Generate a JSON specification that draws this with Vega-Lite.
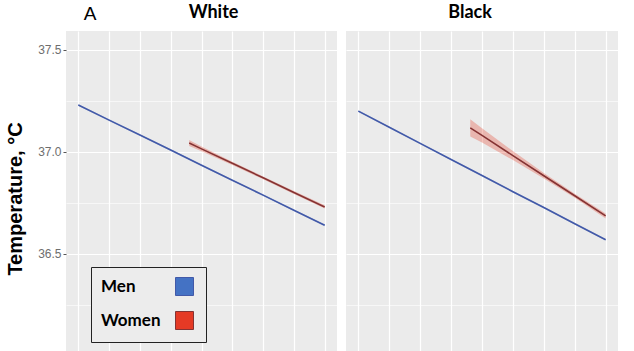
{
  "$schema": "https://vega.github.io/schema/vega-lite/v6.json",
  "background": "white",
  "padding": {"left": 5, "top": 4, "right": 5, "bottom": 0},
  "title": {"text": "A", "anchor": "start", "font": "Liberation Sans", "fontSize": 19, "fontWeight": "normal", "color": "black", "dx": 78, "offset": -20},
  "datasets": {
    "fits": [
      {"panel": "White", "sex": "Men", "x": 0, "y": 37.23, "lo": 37.226, "hi": 37.234},
      {"panel": "White", "sex": "Men", "x": 1, "y": 37.156, "lo": 37.152, "hi": 37.16},
      {"panel": "White", "sex": "Men", "x": 2, "y": 37.083, "lo": 37.079, "hi": 37.087},
      {"panel": "White", "sex": "Men", "x": 3, "y": 37.009, "lo": 37.005, "hi": 37.013},
      {"panel": "White", "sex": "Men", "x": 4, "y": 36.935, "lo": 36.931, "hi": 36.939},
      {"panel": "White", "sex": "Men", "x": 5, "y": 36.861, "lo": 36.857, "hi": 36.865},
      {"panel": "White", "sex": "Men", "x": 6, "y": 36.788, "lo": 36.784, "hi": 36.792},
      {"panel": "White", "sex": "Men", "x": 7, "y": 36.714, "lo": 36.71, "hi": 36.718},
      {"panel": "White", "sex": "Men", "x": 8, "y": 36.64, "lo": 36.636, "hi": 36.644},
      {"panel": "White", "sex": "Women", "x": 3.6, "y": 37.044, "lo": 37.029, "hi": 37.059},
      {"panel": "White", "sex": "Women", "x": 4, "y": 37.015, "lo": 37.003, "hi": 37.027},
      {"panel": "White", "sex": "Women", "x": 5, "y": 36.944, "lo": 36.936, "hi": 36.952},
      {"panel": "White", "sex": "Women", "x": 6, "y": 36.873, "lo": 36.866, "hi": 36.88},
      {"panel": "White", "sex": "Women", "x": 7, "y": 36.801, "lo": 36.794, "hi": 36.808},
      {"panel": "White", "sex": "Women", "x": 8, "y": 36.73, "lo": 36.722, "hi": 36.738},
      {"panel": "Black", "sex": "Men", "x": 0, "y": 37.2, "lo": 37.196, "hi": 37.204},
      {"panel": "Black", "sex": "Men", "x": 1, "y": 37.121, "lo": 37.117, "hi": 37.125},
      {"panel": "Black", "sex": "Men", "x": 2, "y": 37.042, "lo": 37.038, "hi": 37.046},
      {"panel": "Black", "sex": "Men", "x": 3, "y": 36.963, "lo": 36.959, "hi": 36.967},
      {"panel": "Black", "sex": "Men", "x": 4, "y": 36.884, "lo": 36.88, "hi": 36.888},
      {"panel": "Black", "sex": "Men", "x": 5, "y": 36.805, "lo": 36.801, "hi": 36.809},
      {"panel": "Black", "sex": "Men", "x": 6, "y": 36.727, "lo": 36.723, "hi": 36.731},
      {"panel": "Black", "sex": "Men", "x": 7, "y": 36.648, "lo": 36.644, "hi": 36.652},
      {"panel": "Black", "sex": "Men", "x": 8, "y": 36.569, "lo": 36.565, "hi": 36.573},
      {"panel": "Black", "sex": "Women", "x": 3.62, "y": 37.118, "lo": 37.076, "hi": 37.16},
      {"panel": "Black", "sex": "Women", "x": 4, "y": 37.081, "lo": 37.046, "hi": 37.116},
      {"panel": "Black", "sex": "Women", "x": 5, "y": 36.982, "lo": 36.96, "hi": 37.004},
      {"panel": "Black", "sex": "Women", "x": 6, "y": 36.883, "lo": 36.87, "hi": 36.896},
      {"panel": "Black", "sex": "Women", "x": 7, "y": 36.785, "lo": 36.775, "hi": 36.795},
      {"panel": "Black", "sex": "Women", "x": 8, "y": 36.686, "lo": 36.674, "hi": 36.698}
    ]
  },
  "spacing": 9,
  "resolve": {"scale": {"fill": "independent", "stroke": "independent"}},
  "hconcat": [
    {
      "width": 271,
      "height": 335,
      "title": {"text": "White", "dx": 12},
      "data": {"name": "fits"},
      "transform": [{"filter": "datum.panel === 'White'"}],
      "encoding": {
        "x": {"field": "x", "type": "quantitative", "scale": {"domain": [-0.4, 8.4], "nice": false, "zero": false},
              "axis": {"values": [0, 1, 2, 3, 4, 5, 6, 7, 8], "labels": false, "ticks": false, "domain": false, "title": null}},
        "y": {"field": "y", "type": "quantitative", "scale": {"domain": [35.95, 37.593], "nice": false, "zero": false},
              "axis": {"values": [36, 36.25, 36.5, 36.75, 37, 37.25, 37.5], "title": "Temperature, °C",
                       "labelExpr": "datum.value % 0.5 === 0 ? format(datum.value, '.1f') : ''",
                       "tickOpacity": {"condition": {"test": "datum.value % 0.5 !== 0", "value": 0}, "value": 1},
                       "gridWidth": {"condition": {"test": "datum.value % 0.5 !== 0", "value": 0.6}, "value": 1.2}}}
      },
      "layer": [
        {
          "mark": {"type": "area", "opacity": 0.3},
          "encoding": {
            "y": {"field": "lo", "type": "quantitative"},
            "y2": {"field": "hi"},
            "fill": {"field": "sex", "type": "nominal", "scale": {"domain": ["Men", "Women"], "range": ["#4472c4", "#e53a25"]},
                     "legend": {"title": null, "orient": "none", "legendX": 25, "legendY": 236}}
          }
        },
        {
          "mark": {"type": "line", "strokeWidth": 1.6},
          "encoding": {
            "stroke": {"field": "sex", "type": "nominal", "scale": {"domain": ["Men", "Women"], "range": ["#4259a8", "#853333"]}, "legend": null}
          }
        }
      ]
    },
    {
      "width": 272,
      "height": 335,
      "title": {"text": "Black", "dx": -12},
      "data": {"name": "fits"},
      "transform": [{"filter": "datum.panel === 'Black'"}],
      "encoding": {
        "x": {"field": "x", "type": "quantitative", "scale": {"domain": [-0.4, 8.4], "nice": false, "zero": false},
              "axis": {"values": [0, 1, 2, 3, 4, 5, 6, 7, 8], "labels": false, "ticks": false, "domain": false, "title": null}},
        "y": {"field": "y", "type": "quantitative", "scale": {"domain": [35.95, 37.593], "nice": false, "zero": false},
              "axis": {"values": [36, 36.25, 36.5, 36.75, 37, 37.25, 37.5], "title": null, "labels": false, "ticks": false, "domain": false,
                       "gridWidth": {"condition": {"test": "datum.value % 0.5 !== 0", "value": 0.6}, "value": 1.2}}}
      },
      "layer": [
        {
          "mark": {"type": "area", "opacity": 0.3},
          "encoding": {
            "y": {"field": "lo", "type": "quantitative"},
            "y2": {"field": "hi"},
            "fill": {"field": "sex", "type": "nominal", "scale": {"domain": ["Men", "Women"], "range": ["#4472c4", "#e53a25"]}, "legend": null}
          }
        },
        {
          "mark": {"type": "line", "strokeWidth": 1.6},
          "encoding": {
            "stroke": {"field": "sex", "type": "nominal", "scale": {"domain": ["Men", "Women"], "range": ["#4259a8", "#853333"]}, "legend": null}
          }
        }
      ]
    }
  ],
  "config": {
    "view": {"fill": "#ebebeb", "stroke": null},
    "title": {"font": "Lato", "fontSize": 18, "fontWeight": "bold", "color": "black", "offset": 9},
    "axis": {
      "grid": true, "gridColor": "white", "gridWidth": 1.2, "domain": false,
      "tickColor": "#555", "tickSize": 3, "labelPadding": 2,
      "labelFont": "Liberation Sans", "labelFontSize": 12, "labelColor": "#6e6e6e",
      "titleFont": "Liberation Sans", "titleFontSize": 20, "titleFontWeight": "bold", "titleColor": "black", "titlePadding": 12
    },
    "legend": {
      "strokeColor": "#222", "fillColor": "#ececec", "padding": 10, "rowPadding": 11,
      "symbolType": "square", "symbolSize": 324, "symbolStrokeColor": "#333", "symbolStrokeWidth": 1, "symbolOpacity": 1,
      "symbolOffset": 74, "labelOffset": -93,
      "labelFont": "Lato", "labelFontSize": 17, "labelFontWeight": "bold", "labelColor": "black"
    }
  }
}
